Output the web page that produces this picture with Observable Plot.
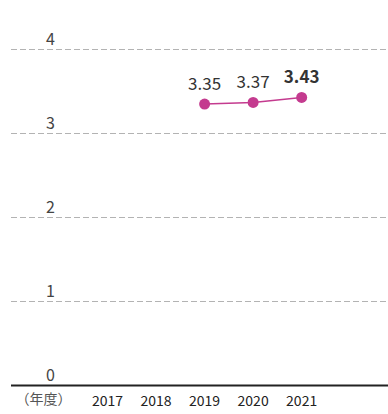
<!DOCTYPE html>
<html><head><meta charset="utf-8">
<script src="https://cdn.jsdelivr.net/npm/d3@7"></script>
<script src="https://cdn.jsdelivr.net/npm/@observablehq/plot@0.6"></script>
<style>
body{margin:0;background:#fff;}
#chart svg{display:block;}
</style>
</head><body><div id="chart"></div>
<script>
const years = [2017, 2018, 2019, 2020, 2021];
const valueYears = [2019, 2020, 2021];
const values = [3.35, 3.37, 3.43];
const labels = ["3.35", "3.37", "3.43"];
const boldFlags = [false, false, true];
const yTicks = [0, 1, 2, 3, 4];
const unitLabel = "（年度）";

const data = valueYears.map((y, i) => ({year: y, value: values[i], label: labels[i], bold: boldFlags[i]}));
const color = "#c43b8f";

const plot = Plot.plot({
  width: 388,
  height: 414,
  marginLeft: 11,
  marginRight: 0,
  marginTop: 49,
  marginBottom: 29,
  style: {fontFamily: "'Noto Sans CJK JP', 'Noto Sans', sans-serif", background: "#fff"},
  x: {domain: [2015.02, 2022.79], axis: null},
  y: {domain: [0, 4], axis: null},
  marks: [
    Plot.ruleY(yTicks.filter(d => d > 0), {stroke: "#b3b3b3", strokeWidth: 1, strokeDasharray: "6,3"}),
    Plot.ruleY([0], {stroke: "#222", strokeWidth: 2}),
    Plot.axisY({ticks: yTicks, tickSize: 0, anchor: "left", label: null, textAnchor: "middle", dx: 48, dy: -10, fontSize: 16, fill: "#444", tickFormat: d => String(d)}),
    Plot.axisX({ticks: years, tickSize: 0, tickPadding: 0, label: null, dy: 11, fontSize: 14, fill: "#222", tickFormat: d => String(d)}),
    Plot.text([unitLabel], {frameAnchor: "bottom-left", dx: 32, dy: 18, fontSize: 14, fill: "#555", textAnchor: "middle"}),
    Plot.line(data, {x: "year", y: "value", stroke: color, strokeWidth: 1.5}),
    Plot.dot(data, {x: "year", y: "value", r: 5.5, fill: color, stroke: "none"}),
    Plot.text(data.filter(d => !d.bold), {x: "year", y: "value", text: "label", dy: -20, fontSize: 17, fill: "#333"}),
    Plot.text(data.filter(d => d.bold), {x: "year", y: "value", text: "label", dy: -20, fontSize: 17, fontWeight: "bold", fill: "#333"})
  ]
});
document.getElementById("chart").appendChild(plot);
</script>
</body></html>
